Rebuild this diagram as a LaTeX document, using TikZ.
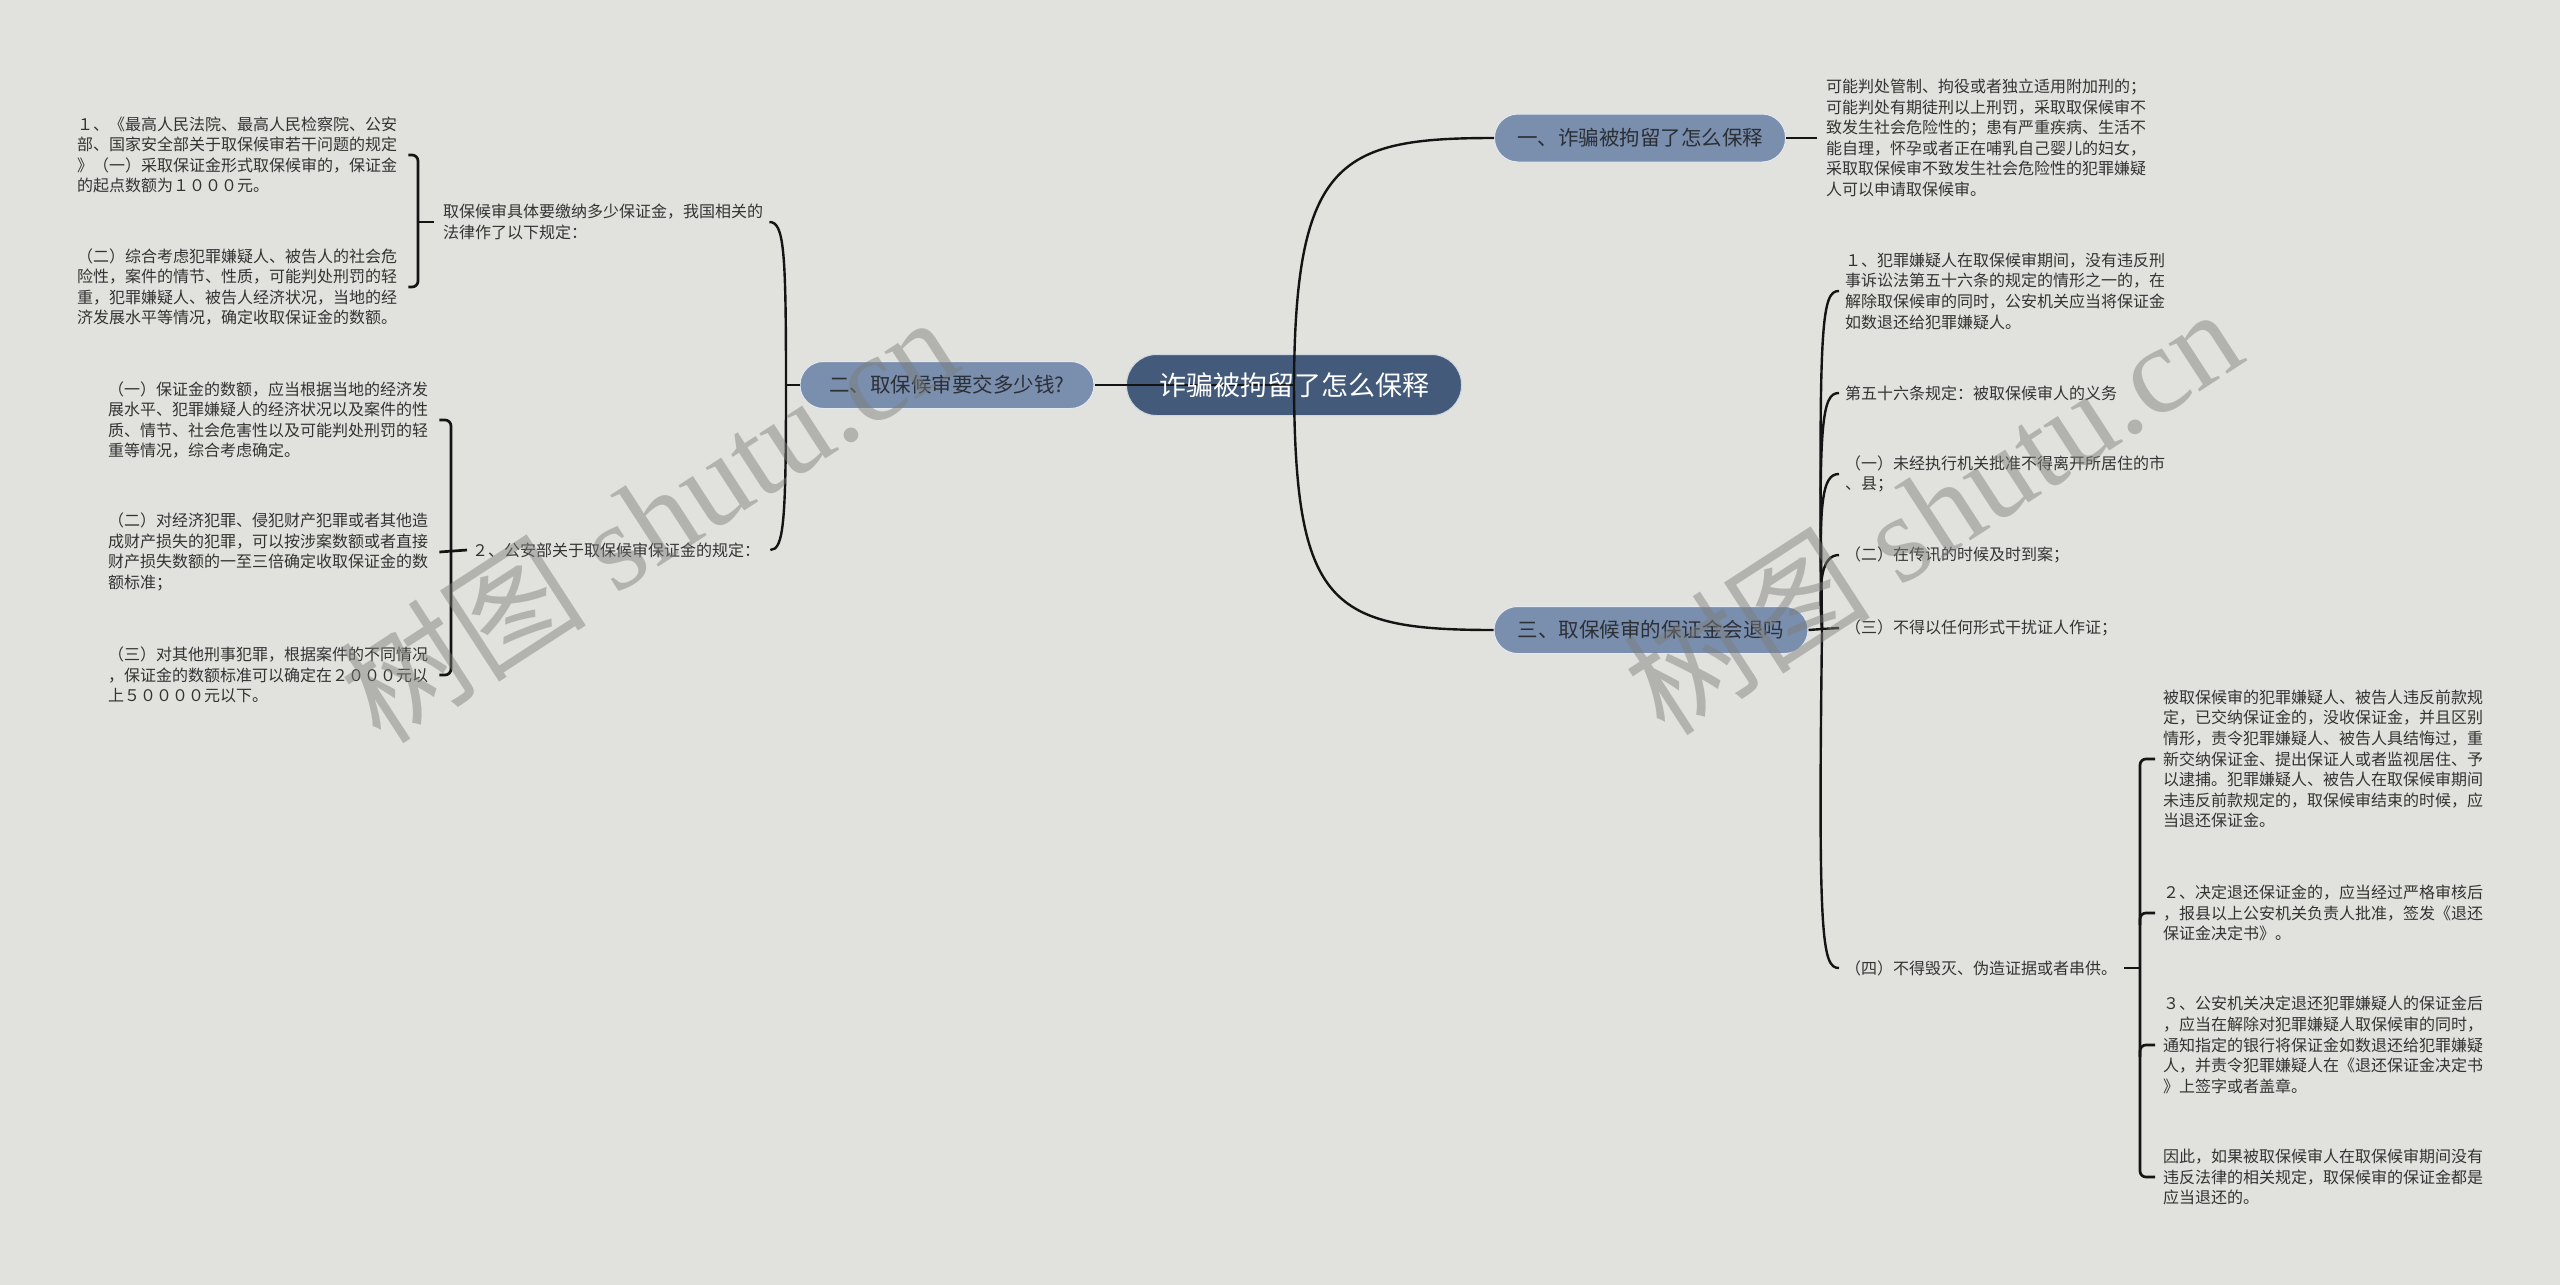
\documentclass[tikz,border=0pt]{standalone}
\usepackage{fontspec}
\setmainfont{Noto Sans CJK SC}
\newfontfamily\wmlatin{Liberation Serif}
\definecolor{bgc}{HTML}{E1E2DE}
\definecolor{rootc}{HTML}{435A7A}
\definecolor{brc}{HTML}{7A8EAD}
\definecolor{txt}{HTML}{333333}
\definecolor{brtxt}{HTML}{2B2F36}
\definecolor{wmc}{HTML}{7E7E7C}
\tikzset{
  leaf/.style={anchor=west, align=left, inner sep=0pt, text=txt, font=\fontsize{16pt}{20.6pt}\selectfont},
  branch/.style={rectangle, rounded corners=23.5pt, fill=brc, draw=white!80!brc, line width=1pt, inner sep=0pt, text=brtxt, font=\fontsize{20.5pt}{24pt}\selectfont},
  rootbox/.style={rectangle, rounded corners=30pt, fill=rootc, draw=white!75!rootc, line width=1pt, minimum width=335pt, minimum height=61pt, inner sep=0pt},
  roottext/.style={inner sep=0pt, text=white, font=\fontsize{27pt}{30pt}\selectfont},
  conn/.style={draw=black!92, line width=2.4pt},
  brk/.style={draw=black!92, line width=2.7pt, rounded corners=6pt},
  wm/.style={inner sep=0pt, text=wmc, text opacity=0.47, font=\fontsize{124pt}{124pt}\selectfont}
}
\begin{document}
\begin{tikzpicture}[x=1pt,y=-1pt]
\useasboundingbox (0,0) rectangle (2560,1285);
\fill[bgc] (0,0) rectangle (2560,1285);

% main nodes
\node[rootbox] (c) at (1294,385) {};
\node[branch, minimum width=291pt, minimum height=48pt] (b1) at (1640,138) {一、诈骗被拘留了怎么保释};
\node[branch, minimum width=294pt, minimum height=47pt] (b2) at (947,385) {二、取保候审要交多少钱?};
\node[branch, minimum width=314pt, minimum height=47pt] (b3) at (1651,630) {三、取保候审的保证金会退吗};

% branch 1 leaf
\node[leaf] (l1) at (1826,138) {可能判处管制、拘役或者独立适用附加刑的；\\可能判处有期徒刑以上刑罚，采取取保候审不\\致发生社会危险性的；患有严重疾病、生活不\\能自理，怀孕或者正在哺乳自己婴儿的妇女，\\采取取保候审不致发生社会危险性的犯罪嫌疑\\人可以申请取保候审。};

% branch 2 children
\node[leaf] (pa) at (443,222) {取保候审具体要缴纳多少保证金，我国相关的\\法律作了以下规定：};
\node[leaf] (pb) at (472,550) {２、公安部关于取保候审保证金的规定：};
\node[leaf] (a1) at (77,155) {１、《最高人民法院、最高人民检察院、公安\\部、国家安全部关于取保候审若干问题的规定\\》（一）采取保证金形式取保候审的，保证金\\的起点数额为１０００元。};
\node[leaf] (a2) at (77,287) {（二）综合考虑犯罪嫌疑人、被告人的社会危\\险性，案件的情节、性质，可能判处刑罚的轻\\重，犯罪嫌疑人、被告人经济状况，当地的经\\济发展水平等情况，确定收取保证金的数额。};
\node[leaf] (pb1) at (108,420) {（一）保证金的数额，应当根据当地的经济发\\展水平、犯罪嫌疑人的经济状况以及案件的性\\质、情节、社会危害性以及可能判处刑罚的轻\\重等情况，综合考虑确定。};
\node[leaf] (pb2) at (108,552) {（二）对经济犯罪、侵犯财产犯罪或者其他造\\成财产损失的犯罪，可以按涉案数额或者直接\\财产损失数额的一至三倍确定收取保证金的数\\额标准；};
\node[leaf] (pb3) at (108,675) {（三）对其他刑事犯罪，根据案件的不同情况\\，保证金的数额标准可以确定在２０００元以\\上５００００元以下。};

% branch 3 children
\node[leaf] (c1) at (1845,291) {１、犯罪嫌疑人在取保候审期间，没有违反刑\\事诉讼法第五十六条的规定的情形之一的，在\\解除取保候审的同时，公安机关应当将保证金\\如数退还给犯罪嫌疑人。};
\node[leaf] (c2) at (1845,393) {第五十六条规定：被取保候审人的义务};
\node[leaf] (c3) at (1845,474) {（一）未经执行机关批准不得离开所居住的市\\、县；};
\node[leaf] (c4) at (1845,555) {（二）在传讯的时候及时到案；};
\node[leaf] (c5) at (1845,628) {（三）不得以任何形式干扰证人作证；};
\node[leaf] (c6) at (1845,968) {（四）不得毁灭、伪造证据或者串供。};
\node[leaf] (d1) at (2163,759) {被取保候审的犯罪嫌疑人、被告人违反前款规\\定，已交纳保证金的，没收保证金，并且区别\\情形，责令犯罪嫌疑人、被告人具结悔过，重\\新交纳保证金、提出保证人或者监视居住、予\\以逮捕。犯罪嫌疑人、被告人在取保候审期间\\未违反前款规定的，取保候审结束的时候，应\\当退还保证金。};
\node[leaf] (d2) at (2163,913) {２、决定退还保证金的，应当经过严格审核后\\，报县以上公安机关负责人批准，签发《退还\\保证金决定书》。};
\node[leaf] (d3) at (2163,1045) {３、公安机关决定退还犯罪嫌疑人的保证金后\\，应当在解除对犯罪嫌疑人取保候审的同时，\\通知指定的银行将保证金如数退还给犯罪嫌疑\\人，并责令犯罪嫌疑人在《退还保证金决定书\\》上签字或者盖章。};
\node[leaf] (d4) at (2163,1177) {因此，如果被取保候审人在取保候审期间没有\\违反法律的相关规定，取保候审的保证金都是\\应当退还的。};

% connectors: root
\draw[conn] (c.center) .. controls (1295,160) and (1340,138) .. (b1.west);
\draw[conn] (c.center) .. controls (1295,605) and (1330,630) .. (b3.west);
\draw[conn] (b2.east) -- (c.center);
\node[roottext] (ct) at (c.center) {诈骗被拘留了怎么保释};

% branch 1
\draw[conn] (b1.east) -- ([xshift=-9pt]l1.west);

% branch 2
\coordinate (b2j) at (786,385);
\draw[conn] (b2.west) -- (b2j);
\draw[conn] (b2j) .. controls (786,250) and (784,222) .. ([xshift=6pt]pa.east);
\draw[conn] (b2j) .. controls (786,520) and (784,550) .. ([xshift=10pt]pb.east);

% bracket A
\draw[brk] ([xshift=11pt]a1.east) -- (418,155) -- (418,287) -- ([xshift=11pt]a2.east);
\draw[brk] (418,222) -- ([xshift=-9pt]pa.west);
% bracket B
\draw[brk] ([xshift=11pt]pb1.east) -- (451,420) -- (451,675) -- ([xshift=11pt]pb3.east);
\draw[brk] ([xshift=11pt]pb2.east) -- ([xshift=-5pt]pb.west);

% branch 3
\coordinate (cj) at (1822,629);
\draw[conn] (b3.east) -- (cj) -- ([xshift=-6pt]c5.west);
\draw[conn] (cj) .. controls (1818,318) and (1822,291) .. ([xshift=-6pt]c1.west);
\draw[conn] (cj) .. controls (1818,420) and (1822,393) .. ([xshift=-6pt]c2.west);
\draw[conn] (cj) .. controls (1818,500) and (1822,474) .. ([xshift=-6pt]c3.west);
\draw[conn] (cj) .. controls (1818,580) and (1822,555) .. ([xshift=-6pt]c4.west);
\draw[conn] (cj) .. controls (1818,940) and (1822,968) .. ([xshift=-6pt]c6.west);

% bracket D
\draw[brk] ([xshift=-8pt]d1.west) -- (2140,759) -- (2140,1177) -- ([xshift=-8pt]d4.west);
\draw[brk] (2140,925) -- (2140,913) -- ([xshift=-8pt]d2.west);
\draw[brk] (2140,1057) -- (2140,1045) -- ([xshift=-8pt]d3.west);
\draw[brk] ([xshift=7pt]c6.east) -- (2140,968);

% watermarks
\node[wm, rotate=33] (wm1) at (648,518) {树图{\wmlatin\ shutu.cn}};
\node[wm, rotate=33] (wm2) at (1932,510) {树图{\wmlatin\ shutu.cn}};
\end{tikzpicture}
\end{document}
